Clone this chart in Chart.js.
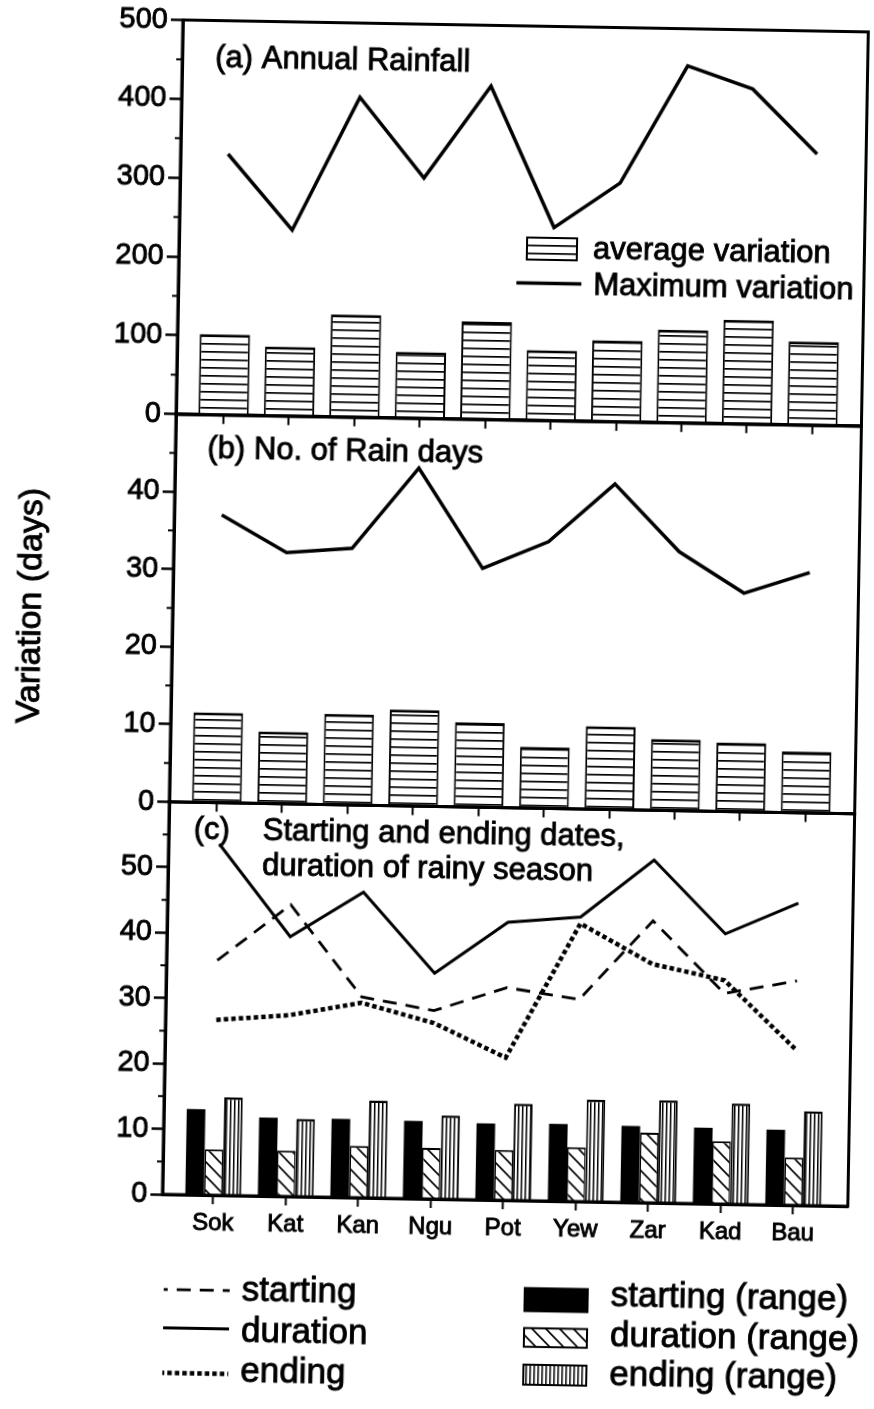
<!DOCTYPE html>
<html>
<head>
<meta charset="utf-8">
<script src="https://cdn.jsdelivr.net/npm/chart.js@4.4.1/dist/chart.umd.min.js"></script>
<style>
html, body { margin: 0; padding: 0; background: #fff; overflow: hidden; }
#wrap { position: relative; width: 874px; height: 1409px; transform: rotate(1deg); transform-origin: 437px 704px; }
#wrap canvas { position: absolute; left: 0; top: 0; }
</style>
</head>
<body>
<div id="wrap">
  <canvas id="ca" width="874" height="1409"></canvas>
  <canvas id="cb" width="874" height="1409"></canvas>
  <canvas id="cc" width="874" height="1409"></canvas>
</div>
<script>
// ---------------- data ----------------
const abStations = [1, 2, 3, 4, 5, 6, 7, 8, 9, 10];          // unlabelled stations of panels (a) and (b)
const rainfallMax = [331, 236, 406, 305, 423, 245, 303, 453, 425, 344];
const rainfallAvg = [102, 88, 130, 84, 124, 89, 103, 118, 132, 106];
const rainDaysMax = [37.1, 32.4, 33.1, 43.6, 30.8, 34.4, 42.0, 33.4, 28.2, 31.0];
const rainDaysAvg = [11.6, 9.3, 11.7, 12.4, 10.9, 7.9, 10.7, 9.2, 8.9, 7.9];

const stations = ['Sok', 'Kat', 'Kan', 'Ngu', 'Pot', 'Yew', 'Zar', 'Kad', 'Bau'];
const startingMax = [35.9, 44.6, 30.7, 28.8, 32.5, 30.9, 43.1, 32.2, 34.3];
const durationMax = [53.7, 39.7, 46.7, 34.5, 42.5, 43.5, 52.4, 41.3, 46.2];
const endingMax   = [26.8, 27.7, 29.8, 26.9, 21.8, 42.5, 36.5, 34.2, 23.8];
const startingRange = [13.1, 12.0, 12.0, 11.9, 11.7, 11.8, 11.7, 11.6, 11.5];
const durationRange = [7.0, 7.0, 7.9, 7.8, 7.7, 8.3, 10.7, 9.6, 7.3];
const endingRange   = [15.0, 11.9, 14.9, 12.8, 14.8, 15.6, 15.7, 15.4, 14.4];

const rainfallTicks = [0, 100, 200, 300, 400, 500];
const rainfallMinor = [50, 150, 250, 350, 450];
const rainDaysTicks = [0, 10, 20, 30, 40];
const rainDaysMinor = [5, 15, 25, 35, 45];
const seasonTicks = [0, 10, 20, 30, 40, 50];
const seasonMinor = [5, 15, 25, 35, 45, 55];

const titleA = '(a) Annual Rainfall';
const titleB = '(b) No. of Rain days';
const titleC = ['(c)', 'Starting and ending dates,', 'duration of rainy season'];
const yTitle = 'Variation (days)';
const legendAB = ['average variation', 'Maximum variation'];

// ---------------- styling / layout ----------------
const FONT = "'Liberation Sans', Arial, Helvetica, sans-serif";
const INK = '#000';
const W = 874, H = 1409;
const AXIS_LEFT = 171, AXIS_RIGHT = 856.5;
const PANEL = { a: [24.5, 418.8], b: [418.8, 806.5], c: [806.5, 1199] };
const X_AXIS_H = { a: 10, b: 10, c: 50 };
const TEXT_STROKE = 0.9;

function tile(w, h, draw) {
  const c = document.createElement('canvas');
  c.width = w; c.height = h;
  const g = c.getContext('2d');
  g.fillStyle = '#fff'; g.fillRect(0, 0, w, h);
  g.fillStyle = INK; g.strokeStyle = INK;
  draw(g);
  return g.createPattern(c, 'repeat');
}
const stripesH = tile(8, 8, g => g.fillRect(0, 3, 8, 1.7));
const hatchDiag = tile(14, 14, g => {
  g.lineWidth = 1.6;
  g.beginPath();
  g.moveTo(-2, -2); g.lineTo(16, 16);
  g.moveTo(-2, 12); g.lineTo(2, 16);
  g.moveTo(12, -2); g.lineTo(16, 2);
  g.stroke();
});
const linesV = tile(4, 4, g => g.fillRect(1, 0, 1.5, 4));

const pts = (xs, ys) => ys.map((v, i) => ({ x: xs[i], y: v }));
const stationPos = stations.map((s, i) => i + 1);

function yScale(max, ticks) {
  return {
    type: 'linear', min: 0, max: max,
    afterBuildTicks: ax => { ax.ticks = ticks.map(v => ({ value: v })); },
    afterFit: ax => { ax.width = AXIS_LEFT; },
    border: { display: true, color: INK, width: 3 },
    grid: { drawOnChartArea: false, drawTicks: true, tickLength: 12, tickWidth: 2.5, tickColor: INK, color: INK },
    ticks: { color: INK, font: { family: FONT, size: 29 }, padding: 3, autoSkip: false,
      textStrokeColor: INK, textStrokeWidth: TEXT_STROKE }
  };
}
function xScale(min, max, positions, labels, height) {
  return {
    type: 'linear', min: min, max: max, offset: false,
    afterBuildTicks: ax => { ax.ticks = positions.map(v => ({ value: v })); },
    afterFit: ax => { ax.height = height; },
    border: { display: true, color: INK, width: 3 },
    grid: { offset: false, drawOnChartArea: false, drawTicks: true, tickLength: 9, tickWidth: 2, tickColor: INK, color: INK },
    ticks: {
      display: !!labels, autoSkip: false, maxRotation: 0, minRotation: 0, padding: 5,
      color: INK, font: { family: FONT, size: 24 }, textStrokeColor: INK, textStrokeWidth: TEXT_STROKE,
      callback: v => (labels ? (labels[Math.round(v) - 1] || '') : '')
    }
  };
}
function framePlugin(minor) {
  return {
    id: 'frame',
    afterDatasetsDraw(chart) {
      const { ctx, chartArea: a } = chart;
      const y = chart.scales.y;
      ctx.save();
      ctx.strokeStyle = INK; ctx.lineWidth = 3;
      ctx.strokeRect(a.left, a.top, a.right - a.left, a.bottom - a.top);
      ctx.lineWidth = 2;
      minor.forEach(v => {
        const py = y.getPixelForValue(v);
        ctx.beginPath(); ctx.moveTo(a.left - 6, py); ctx.lineTo(a.left, py); ctx.stroke();
      });
      ctx.restore();
    }
  };
}
function text(ctx, s, x, y, size, align) {
  ctx.font = size + 'px ' + FONT;
  ctx.textAlign = align || 'left';
  ctx.textBaseline = 'alphabetic';
  ctx.fillStyle = INK;
  ctx.strokeStyle = INK;
  ctx.lineWidth = TEXT_STROKE;
  ctx.setLineDash([]);
  ctx.strokeText(s, x, y);
  ctx.fillText(s, x, y);
}
function baseOptions(panel, xs, ys) {
  const [top, bottom] = PANEL[panel];
  return {
    responsive: false, animation: false, devicePixelRatio: 1, events: [],
    layout: { autoPadding: false, padding: { left: 0, right: W - AXIS_RIGHT, top: top, bottom: H - bottom - X_AXIS_H[panel] } },
    plugins: { legend: { display: false }, tooltip: { enabled: false }, title: { display: false } },
    scales: { x: xs, y: ys }
  };
}

// ---------------- panel (a) ----------------
new Chart(document.getElementById('ca'), {
  type: 'bar',
  data: {
    datasets: [
      { type: 'line', label: legendAB[1], data: pts(abStations, rainfallMax), borderColor: INK, borderWidth: 3.5,
        pointRadius: 0, fill: false, tension: 0, order: 0 },
      { type: 'bar', label: legendAB[0], data: pts(abStations, rainfallAvg), backgroundColor: stripesH,
        borderColor: INK, borderWidth: { top: 3, left: 2, right: 2, bottom: 0 }, borderSkipped: 'start',
        barPercentage: 0.77, categoryPercentage: 1, order: 1 }
    ]
  },
  options: baseOptions('a', xScale(0.274, 10.75, abStations, null, X_AXIS_H.a), yScale(500, rainfallTicks)),
  plugins: [framePlugin(rainfallMinor), {
    id: 'textsA',
    afterDraw(chart) {
      const ctx = chart.ctx;
      ctx.save();
      text(ctx, titleA, 204, 70.6, 31);
      // legend
      ctx.fillStyle = stripesH; ctx.fillRect(519, 236, 50, 22);
      ctx.strokeStyle = INK; ctx.lineWidth = 2; ctx.strokeRect(519, 236, 50, 22);
      text(ctx, legendAB[0], 585, 255.6, 31);
      ctx.lineWidth = 3.5; ctx.beginPath(); ctx.moveTo(509, 281.4); ctx.lineTo(574, 281.4); ctx.stroke();
      text(ctx, legendAB[1], 586, 292.3, 31);
      ctx.restore();
    }
  }]
});

// ---------------- panel (b) ----------------
new Chart(document.getElementById('cb'), {
  type: 'bar',
  data: {
    datasets: [
      { type: 'line', label: legendAB[1], data: pts(abStations, rainDaysMax), borderColor: INK, borderWidth: 3.5,
        pointRadius: 0, fill: false, tension: 0, order: 0 },
      { type: 'bar', label: legendAB[0], data: pts(abStations, rainDaysAvg), backgroundColor: stripesH,
        borderColor: INK, borderWidth: { top: 3, left: 2, right: 2, bottom: 0 }, borderSkipped: 'start',
        barPercentage: 0.76, categoryPercentage: 1, order: 1 }
    ]
  },
  options: baseOptions('b', xScale(0.274, 10.75, abStations, null, X_AXIS_H.b), yScale(50, rainDaysTicks)),
  plugins: [framePlugin(rainDaysMinor), {
    id: 'textsB',
    afterDraw(chart) {
      const ctx = chart.ctx;
      ctx.save();
      text(ctx, titleB, 203, 462.3, 31);
      ctx.translate(38.5, 612.6);
      ctx.rotate(-Math.PI / 2);
      text(ctx, yTitle, 0, 0, 34, 'center');
      ctx.restore();
    }
  }]
});

// ---------------- panel (c) ----------------
new Chart(document.getElementById('cc'), {
  type: 'bar',
  data: {
    datasets: [
      { type: 'line', label: 'starting', data: pts(stationPos, startingMax), borderColor: INK, borderWidth: 2.8,
        borderDash: [14, 9], pointRadius: 0, fill: false, tension: 0, order: 0 },
      { type: 'line', label: 'duration', data: pts(stationPos, durationMax), borderColor: INK, borderWidth: 3,
        pointRadius: 0, fill: false, tension: 0, order: 0 },
      { type: 'line', label: 'ending', data: pts(stationPos, endingMax), borderColor: INK, borderWidth: 4.5,
        borderDash: [4.5, 3], pointRadius: 0, fill: false, tension: 0, order: 0 },
      { type: 'bar', label: 'starting (range)', data: pts(stationPos, startingRange), backgroundColor: INK,
        borderWidth: 0, barPercentage: 1, categoryPercentage: 0.77, order: 1 },
      { type: 'bar', label: 'duration (range)', data: pts(stationPos, durationRange), backgroundColor: hatchDiag,
        borderColor: INK, borderWidth: { top: 2, left: 1.5, right: 1.5, bottom: 0 }, borderSkipped: 'start',
        barPercentage: 1, categoryPercentage: 0.77, order: 1 },
      { type: 'bar', label: 'ending (range)', data: pts(stationPos, endingRange), backgroundColor: linesV,
        borderColor: INK, borderWidth: { top: 2.5, left: 2, right: 2, bottom: 0 }, borderSkipped: 'start',
        barPercentage: 1, categoryPercentage: 0.77, order: 1 }
    ]
  },
  options: baseOptions('c', xScale(0.299, 9.754, stationPos, stations, X_AXIS_H.c), yScale(60, seasonTicks)),
  plugins: [framePlugin(seasonMinor), {
    id: 'textsC',
    afterDraw(chart) {
      const ctx = chart.ctx;
      const ds = chart.data.datasets;
      ctx.save();
      text(ctx, titleC[0], 196, 843, 31);
      text(ctx, titleC[1], 265, 843, 31);
      text(ctx, titleC[2], 265, 878, 31);
      // bottom legend: lines
      const lineRows = [[0, 1294.2, 1304], [1, 1332.5, 1344.6], [2, 1377.5, 1384.8]];
      lineRows.forEach(([i, ly, ty]) => {
        const d = ds[i];
        ctx.save();
        ctx.strokeStyle = d.borderColor; ctx.lineWidth = d.borderWidth;
        ctx.setLineDash(d.borderDash || []); ctx.lineDashOffset = 10;
        ctx.beginPath(); ctx.moveTo(174, ly); ctx.lineTo(240, ly); ctx.stroke();
        ctx.restore();
        text(ctx, d.label, 252, ty, 35);
      });
      // bottom legend: bars
      const barRows = [[3, 1286.4, 23, 1303], [4, 1326.4, 18.7, 1343], [5, 1363, 20, 1381.6]];
      barRows.forEach(([i, by, bh, ty]) => {
        const d = ds[i];
        ctx.fillStyle = d.backgroundColor; ctx.fillRect(535, by, 63, bh);
        ctx.strokeStyle = INK; ctx.lineWidth = 2; ctx.setLineDash([]); ctx.strokeRect(535, by, 63, bh);
        text(ctx, d.label, 621, ty, 35);
      });
      ctx.restore();
    }
  }]
});
</script>
</body>
</html>
